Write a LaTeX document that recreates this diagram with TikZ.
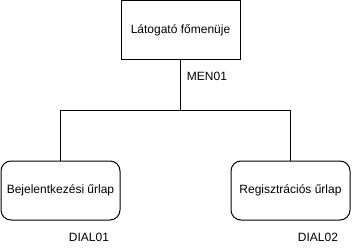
\documentclass[tikz,border=0pt]{standalone}
\usepackage{fontspec}
\setmainfont{Liberation Sans}

\begin{document}
\begin{tikzpicture}[x=1pt,y=-1pt,line width=1pt,
    font=\fontsize{12}{14}\selectfont,
    menu/.style={draw,minimum width=119pt,minimum height=59pt,inner sep=0pt},
    dialog/.style={menu,rounded corners=10pt},
    code/.style={inner sep=0pt}]
  \useasboundingbox (0,0) rectangle (352,251);
  % main menu and its two forms
  \node[menu]   (MEN)   at (180.5,30.5)  {Látogató főmenüje};
  \node[dialog] (DIAL1) at (60.5,190.5)  {Bejelentkezési űrlap};
  \node[dialog] (DIAL2) at (290.5,190.5) {Regisztrációs űrlap};
  \node[code]   (cMEN)   at (207,76)  {MEN01};
  \node[code]   (cDIAL1) at (89,237)  {DIAL01};
  \node[code]   (cDIAL2) at (318,237) {DIAL02};
  % tree connectors
  \coordinate (split) at (180.5,110.5);
  \draw (MEN) -- (split);
  \draw (DIAL1.north) |- (split) -| (DIAL2.north);
\end{tikzpicture}
\end{document}
